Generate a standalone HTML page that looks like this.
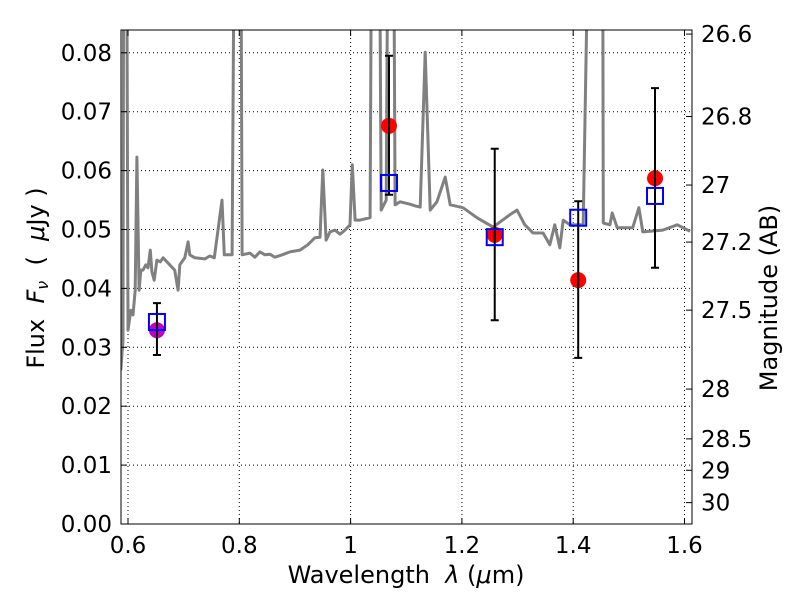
<!DOCTYPE html>
<html><head><meta charset="utf-8"><style>body{margin:0;background:#fff}svg{font-family:"DejaVu Sans","Liberation Sans",sans-serif}</style></head>
<body>
<svg id="c" width="800" height="600" xmlns="http://www.w3.org/2000/svg"></svg>
<script>
const specLam=[0.587,0.591,0.593,0.596,0.600,0.605,0.609,0.613,0.616,0.620,0.623,0.627,0.632,0.636,0.640,0.643,0.647,0.652,0.658,0.663,0.670,0.675,0.684,0.690,0.693,0.702,0.708,0.711,0.720,0.738,0.747,0.755,0.769,0.773,0.787,0.794,0.801,0.805,0.819,0.828,0.837,0.846,0.855,0.864,0.877,0.891,0.909,0.923,0.936,0.945,0.950,0.956,0.963,0.972,0.981,0.990,0.999,1.003,1.008,1.017,1.035,1.040,1.049,1.055,1.064,1.070,1.075,1.080,1.089,1.107,1.116,1.125,1.134,1.143,1.155,1.170,1.179,1.202,1.227,1.256,1.286,1.299,1.313,1.328,1.346,1.358,1.367,1.376,1.382,1.394,1.418,1.436,1.452,1.454,1.466,1.470,1.479,1.507,1.518,1.525,1.561,1.587,1.610];
const specFlux=[0.0261,0.0312,0.15,0.15,0.0329,0.0363,0.0355,0.0397,0.0623,0.0397,0.0431,0.0431,0.0440,0.0435,0.0465,0.0428,0.0414,0.0448,0.0445,0.0452,0.0445,0.0440,0.0431,0.0397,0.0440,0.0452,0.0479,0.0457,0.0452,0.0450,0.0455,0.0452,0.0550,0.0457,0.0457,0.15,0.15,0.0457,0.0460,0.0453,0.0462,0.0457,0.0458,0.0453,0.0457,0.0462,0.0465,0.0474,0.0486,0.0487,0.0601,0.0482,0.0496,0.0499,0.0492,0.0499,0.0508,0.0610,0.0516,0.0516,0.0520,0.15,0.15,0.0533,0.0550,0.15,0.15,0.0542,0.0547,0.0543,0.0540,0.0538,0.0801,0.0533,0.0547,0.0589,0.0542,0.0537,0.0520,0.0504,0.0525,0.0533,0.0508,0.0494,0.0494,0.0474,0.0508,0.0469,0.0516,0.0508,0.0508,0.15,0.15,0.0511,0.0508,0.0528,0.0503,0.0503,0.0537,0.0496,0.0499,0.0508,0.0497];
const obsLam=[0.652,1.069,1.259,1.409,1.547];
const obsFlux=[0.0329,0.0676,0.0491,0.0414,0.0587];
const errHi=[0.0375,0.0795,0.0637,0.0548,0.0740];
const errLo=[0.0287,0.0559,0.0346,0.0282,0.0435];
const modelFlux=[0.0343,0.0579,0.0487,0.0520,0.0557];
const obsColor=['#bf00bf','red','red','red','red'];
const xTicks=[0.6,0.8,1.0,1.2,1.4,1.6];
const xTickLabels=['0.6','0.8','1','1.2','1.4','1.6'];
const yTicks=[0,0.01,0.02,0.03,0.04,0.05,0.06,0.07,0.08];
const yTickLabels=['0.00','0.01','0.02','0.03','0.04','0.05','0.06','0.07','0.08'];
const magTicks=[26.6,26.8,27,27.2,27.5,28,28.5,29,30];

const L=121,R=692,T=30,B=524;
const xs=v=>128+(v-0.6)*556.5;
const ys=v=>524-v*5890;
const svg=document.getElementById('c');
const NS='http://www.w3.org/2000/svg';
function mk(tag,attrs,parent){const e=document.createElementNS(NS,tag);for(const k in attrs)e.setAttribute(k,attrs[k]);(parent||svg).appendChild(e);return e;}
const defs=mk('defs',{});const cp=mk('clipPath',{id:'pc'},defs);mk('rect',{x:L,y:T,width:R-L,height:B-T},cp);

xTicks.forEach(t=>{const g=mk('line',{x1:xs(t),x2:xs(t),y1:T,y2:B,stroke:'#000','stroke-width':1,'stroke-dasharray':'1,3'});

});
yTicks.forEach(t=>{const g=mk('line',{x1:L,x2:R,y1:ys(t),y2:ys(t),stroke:'#000','stroke-width':1,'stroke-dasharray':'1,3'});

});

let d='';specLam.forEach((l,i)=>{d+=(i?'L':'M')+xs(l).toFixed(1)+','+ys(specFlux[i]).toFixed(1);});
const sp=mk('path',{d:d,fill:'none',stroke:'#808080','stroke-width':3,'clip-path':'url(#pc)','stroke-linejoin':'round'});



obsLam.forEach((l,i)=>{
const x=xs(l);
const c=mk('circle',{cx:x,cy:ys(obsFlux[i]),r:8,fill:obsColor[i]});


const eb=mk('path',{d:`M${x},${ys(errHi[i])}V${ys(errLo[i])}M${x-4},${ys(errHi[i])}h8M${x-4},${ys(errLo[i])}h8`,stroke:'#000','stroke-width':2,fill:'none'});


const s=mk('rect',{x:x-8,y:ys(modelFlux[i])-8,width:16,height:16,fill:'none',stroke:'#0000ff','stroke-width':2});


});

const fr=mk('rect',{x:L,y:T,width:R-L,height:B-T,fill:'none',stroke:'#000','stroke-width':1});



xTicks.forEach((t,i)=>{mk('path',{d:`M${xs(t)},${B}v-6M${xs(t)},${T}v6`,stroke:'#000'});
const tx=mk('text',{x:xs(t),y:B+29,'font-size':23,'text-anchor':'middle'});tx.textContent=xTickLabels[i];

});
yTicks.forEach((t,i)=>{mk('path',{d:`M${L},${ys(t)}h6`,stroke:'#000'});
const tx=mk('text',{x:L-9,y:ys(t)+8,'font-size':23,'text-anchor':'end'});tx.textContent=yTickLabels[i];

});
magTicks.forEach(m=>{const f=Math.pow(10,(23.9-m)/2.5);const y=ys(f);
mk('path',{d:`M${R},${y}h-6`,stroke:'#000'});
const tx=mk('text',{x:R+9,y:y+8,'font-size':23});tx.textContent=String(m);

});
</script>
<svg width="800" height="600" style="position:absolute;left:0;top:0" xmlns="http://www.w3.org/2000/svg">
<text x="406" y="583" font-size="24" text-anchor="middle" xml:space="preserve" style="white-space:pre" font-family="DejaVu Sans, sans-serif">Wavelength  <tspan font-style="italic">λ</tspan> (<tspan font-style="italic">μ</tspan>m)</text>
<text transform="translate(44,278) rotate(-90)" font-size="24" text-anchor="middle" xml:space="preserve" style="white-space:pre" font-family="DejaVu Sans, sans-serif">Flux  <tspan font-style="italic">F</tspan><tspan font-size="16" font-style="italic" dy="4">ν</tspan><tspan dy="-4">  (  </tspan><tspan font-style="italic">μ</tspan>Jy )</text>
<text transform="translate(777,298) rotate(-90)" font-size="24" text-anchor="middle" font-family="DejaVu Sans, sans-serif">Magnitude (AB)</text>
</svg>
</body></html>
